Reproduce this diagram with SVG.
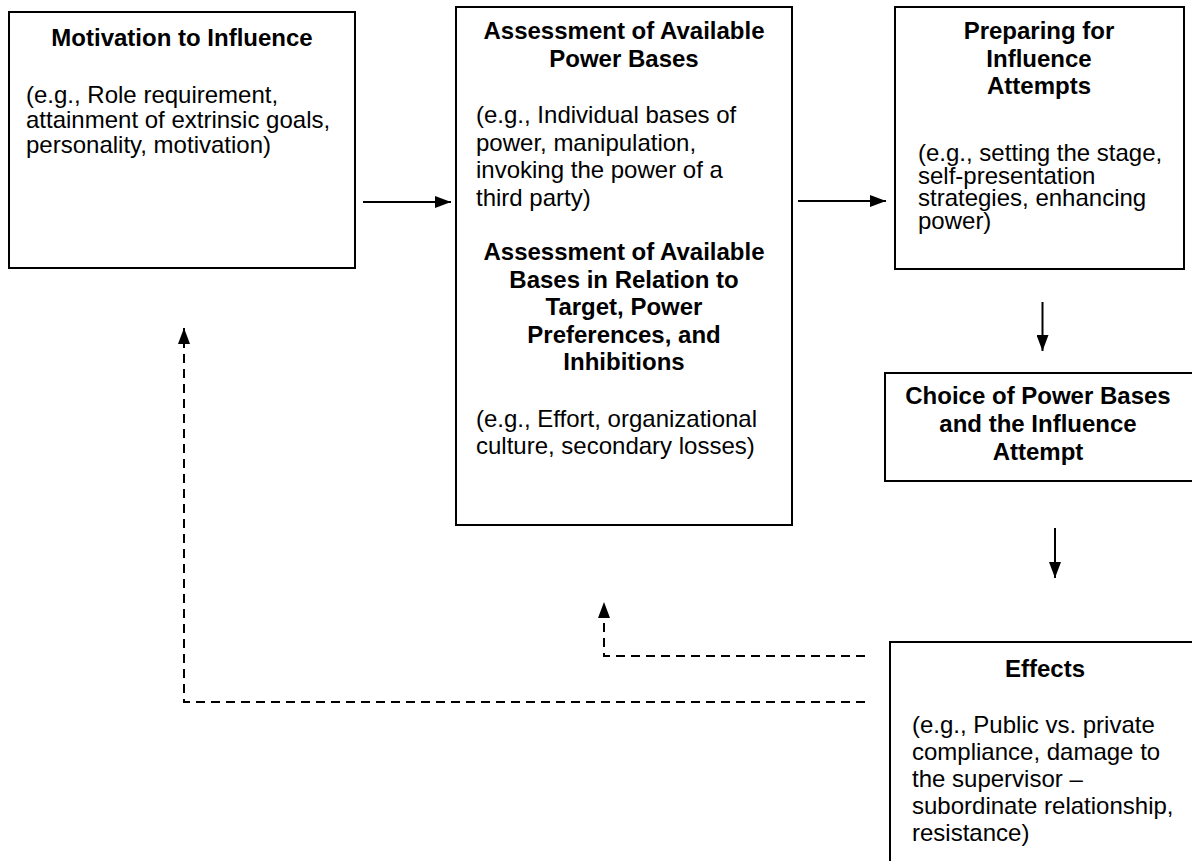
<svg xmlns="http://www.w3.org/2000/svg" width="1192" height="861" viewBox="0 0 1192 861">
<style>
.box{fill:#fff;stroke:#000;stroke-width:2}
.t{font-family:"Liberation Sans",Arial,sans-serif;font-size:24px;fill:#000}
.b{font-weight:bold;text-anchor:middle}
.c{fill:none;stroke:#000;stroke-width:2}
.d{fill:none;stroke:#000;stroke-width:2;stroke-dasharray:9 6}
</style>
<defs>
<marker id="ah" viewBox="0 0 16 12" refX="16" refY="6" markerWidth="16" markerHeight="12" markerUnits="userSpaceOnUse" orient="auto">
<path d="M0,0 L16,6 L0,12 Z" fill="#000"/>
</marker>
</defs>
<rect width="1192" height="861" fill="#fff"/>
<g id="motivation">
<rect class="box" x="9" y="12" width="346" height="256"/>
<text class="t b" x="182" y="46">Motivation to Influence</text>
<text class="t"><tspan x="26" y="103">(e.g., Role requirement,</tspan><tspan x="26" y="128">attainment of extrinsic goals,</tspan><tspan x="26" y="153">personality, motivation)</tspan></text>
</g>
<g id="assessment">
<rect class="box" x="456" y="7" width="336" height="518"/>
<text class="t b"><tspan x="624" y="39">Assessment of Available</tspan><tspan x="624" y="66.5">Power Bases</tspan></text>
<text class="t"><tspan x="476" y="123">(e.g., Individual bases of</tspan><tspan x="476" y="150.5">power, manipulation,</tspan><tspan x="476" y="178">invoking the power of a</tspan><tspan x="476" y="205.5">third party)</tspan></text>
<text class="t b"><tspan x="624" y="260">Assessment of Available</tspan><tspan x="624" y="287.5">Bases in Relation to</tspan><tspan x="624" y="315">Target, Power</tspan><tspan x="624" y="342.5">Preferences, and</tspan><tspan x="624" y="370">Inhibitions</tspan></text>
<text class="t"><tspan x="476" y="426.5">(e.g., Effort, organizational</tspan><tspan x="476" y="454">culture, secondary losses)</tspan></text>
</g>
<g id="preparing">
<rect class="box" x="895" y="7" width="289" height="262"/>
<text class="t b"><tspan x="1039" y="39.3">Preparing for</tspan><tspan x="1039" y="66.8">Influence</tspan><tspan x="1039" y="94.3">Attempts</tspan></text>
<text class="t"><tspan x="918" y="161">(e.g., setting the stage,</tspan><tspan x="918" y="183.5">self-presentation</tspan><tspan x="918" y="206">strategies, enhancing</tspan><tspan x="918" y="228.5">power)</tspan></text>
</g>
<g id="choice">
<rect class="box" x="885" y="373" width="330" height="108"/>
<text class="t b"><tspan x="1038" y="404">Choice of Power Bases</tspan><tspan x="1038" y="432">and the Influence</tspan><tspan x="1038" y="460">Attempt</tspan></text>
</g>
<g id="effects">
<rect class="box" x="890" y="642" width="330" height="240"/>
<text class="t b" x="1045" y="677">Effects</text>
<text class="t"><tspan x="912" y="733">(e.g., Public vs. private</tspan><tspan x="912" y="760">compliance, damage to</tspan><tspan x="912" y="787">the supervisor –</tspan><tspan x="912" y="814">subordinate relationship,</tspan><tspan x="912" y="841">resistance)</tspan></text>
</g>
<g id="connectors">
<line class="c" x1="363" y1="202" x2="451" y2="202" marker-end="url(#ah)"/>
<line class="c" x1="798" y1="201" x2="886" y2="201" marker-end="url(#ah)"/>
<line class="c" x1="1042.5" y1="302" x2="1042.5" y2="351" marker-end="url(#ah)"/>
<line class="c" x1="1055" y1="528" x2="1055" y2="578" marker-end="url(#ah)"/>
<path class="d" d="M865,656 H604 V602" marker-end="url(#ah)"/>
<path class="d" d="M865,702 H184 V328" marker-end="url(#ah)"/>
</g>
</svg>
